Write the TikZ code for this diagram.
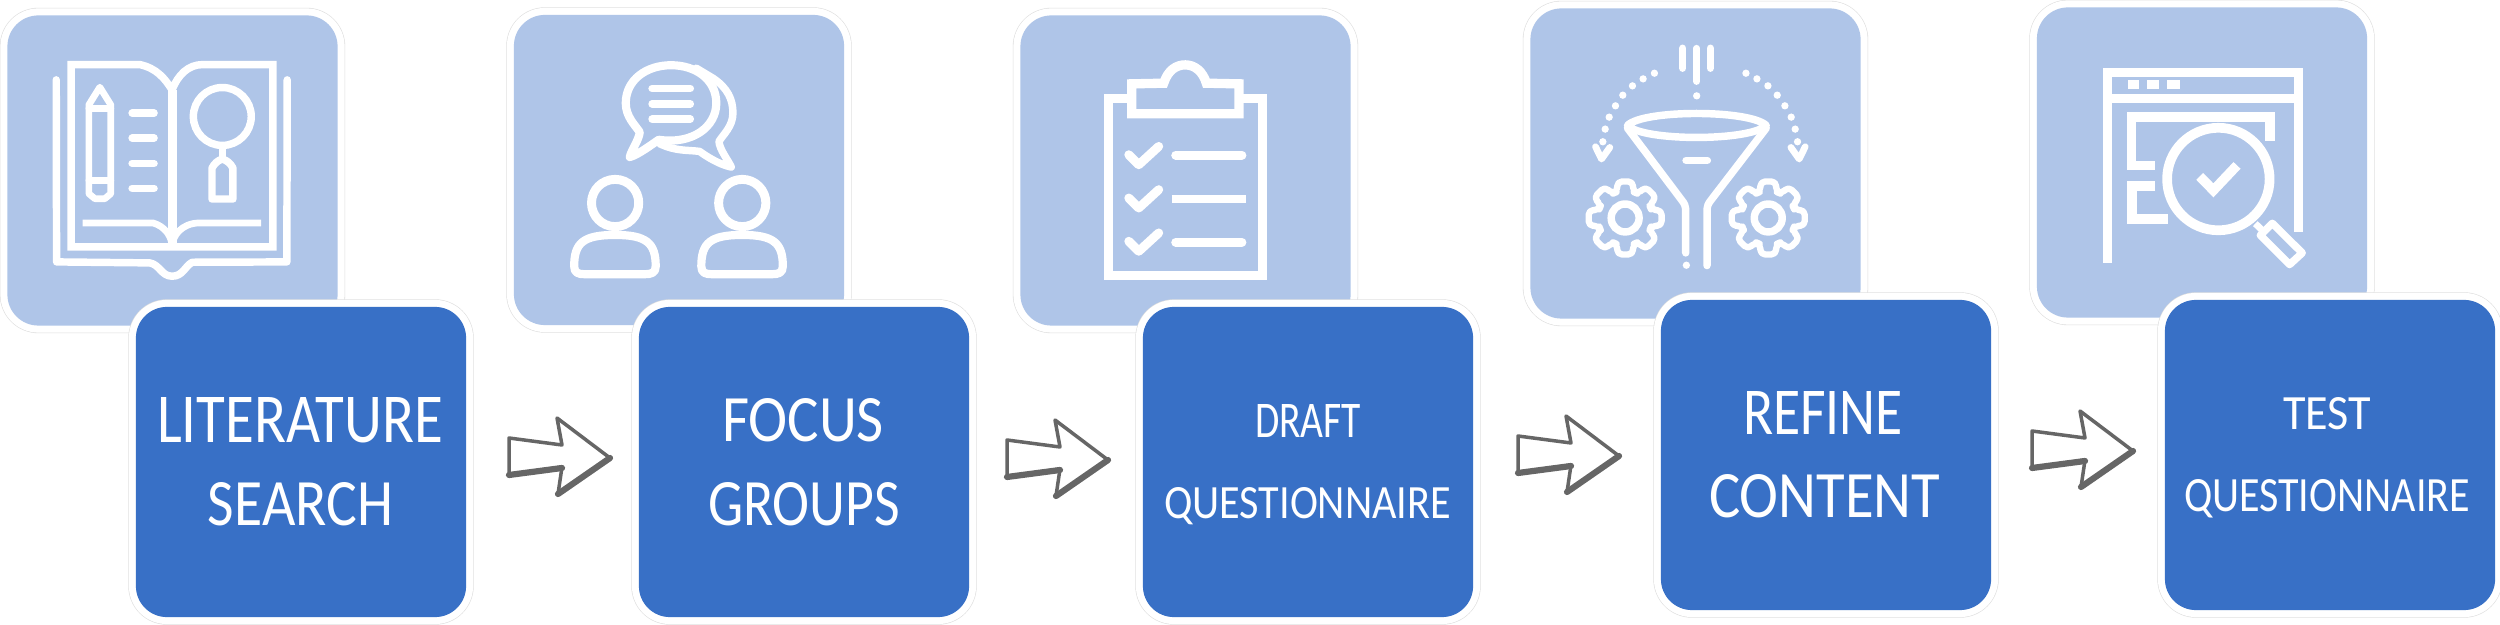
\documentclass[tikz,border=0pt]{standalone}
\usepackage{graphicx}
\usepackage{fontspec}
\setmainfont{Carlito}
\usetikzlibrary{calc}
\definecolor{lightblue}{RGB}{175,197,232}
\definecolor{darkblue}{RGB}{56,112,198}
\definecolor{hair}{RGB}{222,222,222}
\definecolor{arrowgrey}{RGB}{102,102,102}
\newlength{\pxunit}
\setlength{\pxunit}{0.01cm}
\tikzset{
  panel/.style={shape=rectangle,inner sep=0pt,outer sep=0pt,minimum width=3.3cm,minimum height=3.1cm,
    rounded corners=0.31cm,fill=#1,
    preaction={draw=hair,line width=0.152cm},
    preaction={draw=white,line width=0.14cm}},
  ic/.style={draw=white,line width=#1*0.106pt,line cap=round,line join=round},
  ic/.default=20,
  icb/.style={draw=white,line width=#1*0.106pt,line cap=butt,line join=miter},
  icb/.default=24,
  zoomframe/.style 2 args={shift={(#1,#2)},x=0.0033333cm,y=-0.0033333cm},
  lbl/.style={inner sep=0pt,outer sep=0pt,anchor=base,text=white},
  arrowbody/.style={fill=white,draw=arrowgrey,line width=0.035cm,line join=round},
  arrowshade/.style={draw=arrowgrey,line width=0.062cm,line cap=round}
}
\newcommand{\fitlabel}[3]{\resizebox{#1\pxunit}{#2\pxunit}{#3}}
\newcommand{\handarrow}[4]{%
  \begin{scope}[shift={($(#1.east)!.5!(#2.west)$)},shift={(#3,#4)}]
    \draw[arrowbody] (-101,-20) -- (-48,-13) -- (-53,-40) -- (0,0) -- (-52,36) -- (-48,9) -- (-101,17) -- cycle;
    \draw[arrowshade] (-101,17) -- (-48,10);
    \draw[arrowshade] (-52,36) -- (0,0);
  \end{scope}}
\newcommand{\gearicon}[2]{%
  \draw[ic=20] (#1,#2) circle[radius=42];
  \draw[ic=17,rounded corners=1.3pt] ($(#1,#2)+(-17:82)$)
    \foreach \a in {0,45,...,315} { -- ($(#1,#2)+(\a-17:82)$) -- ($(#1,#2)+(\a-12:112)$) -- ($(#1,#2)+(\a+12:112)$) -- ($(#1,#2)+(\a+17:82)$) } -- cycle;}
\newcommand{\personicon}[1]{%
  \draw[ic=24] (#1+406,610) circle[radius=71];
  \draw[ic=22] (#1+283,800) .. controls (#1+283,730) and (#1+310,706) .. (#1+406,706)
    .. controls (#1+500,706) and (#1+528,730) .. (#1+528,800)
    .. controls (#1+528,820) and (#1+515,824) .. (#1+495,824) -- (#1+315,824)
    .. controls (#1+295,824) and (#1+283,820) .. (#1+283,800) -- cycle;}
\begin{document}
\begin{tikzpicture}[x=0.01cm,y=-0.01cm]
\useasboundingbox (0,0) rectangle (2500,625);
\fill[white] (0,0) rectangle (2500,625);
% light panels
\node[panel=lightblue] (l1) at (172.5,170.5) {};
\node[panel=lightblue] (l2) at (679,170) {};
\node[panel=lightblue] (l3) at (1185.5,170.5) {};
\node[panel=lightblue] (l4) at (1695.5,163.5) {};
\node[panel=lightblue] (l5) at (2202,162.5) {};
% icon 1: book
\begin{scope}[zoomframe={0}{0}]
  \draw[ic=20] (169,240) -- (170,787) -- (450,790) .. controls (480,795) and (485,830) .. (517,830) .. controls (550,830) and (555,800) .. (578,788) -- (862,787) -- (863,240);
  \draw[icb=20] (214,194) -- (420,194) .. controls (470,205) and (495,235) .. (517,270) .. controls (535,225) and (565,194) .. (610,194) -- (820,194) -- (820,742) -- (214,742) -- cycle;
  \draw[icb=24] (517,270) -- (517,742);
  \draw[icb=18] (248,670) -- (460,670) .. controls (495,680) and (517,710) .. (517,742);
  \draw[icb=18] (785,670) -- (600,670) .. controls (545,670) and (517,710) .. (517,742);
  \draw[ic=18] (267,315) -- (300,262) -- (333,315) -- (333,582) -- (315,597) -- (285,597) -- (267,582) -- cycle;
  \draw[ic=18] (267,325) -- (333,325);
  \draw[ic=18] (267,542) -- (333,542);
  \foreach \y in {340,415,491,566} \draw[ic=20] (397,\y) -- (463,\y);
  \draw[ic=20] (668,350) circle[radius=87];
  \draw[icb=20] (668,437) -- (668,475);
  \draw[ic=20] (637,598) -- (637,505) .. controls (645,490) and (655,482) .. (668,478) .. controls (682,482) and (692,490) .. (700,505) -- (700,598) -- cycle;
\end{scope}
% icon 2: focus group
\begin{scope}[zoomframe={480}{0}]
  \draw[ic=22] (537,420) .. controls (640,435) and (710,380) .. (710,310) .. controls (710,240) and (650,196) .. (574,196) .. controls (500,196) and (438,240) .. (438,310) .. controls (438,350) and (465,375) .. (480,397) .. controls (478,420) and (455,450) .. (450,472) .. controls (475,465) and (515,435) .. (537,420) -- cycle;
  \draw[ic=20] (650,205) -- (700,235) .. controls (745,265) and (760,300) .. (760,340) .. controls (760,380) and (730,405) .. (718,425) .. controls (720,450) and (745,480) .. (755,502) .. controls (720,495) and (680,470) .. (660,455) .. controls (620,450) and (590,455) .. (540,432);
  \foreach \y in {266,312,358} \draw[ic=20] (517,\y) -- (632,\y);
  \personicon{0}
  \personicon{382}
\end{scope}
% icon 3: clipboard
\begin{scope}[zoomframe={990}{0}]
  \draw[icb=25] (413,296) -- (357,296) -- (357,827) -- (818,827) -- (818,296) -- (761,296);
  \draw[icb=25] (426,342) -- (426,252) -- (522,250) .. controls (535,210) and (560,195) .. (587,195) .. controls (615,195) and (640,215) .. (650,250) -- (748,252) -- (748,342) -- cycle;
  \foreach \d in {0,130,260} \draw[ic=24] (417,465+\d) -- (447,495+\d) -- (507,440+\d);
  \draw[ic=24] (558,466) -- (757,466);
  \draw[icb=22] (546,597) -- (768,597);
  \draw[ic=24] (558,728) -- (757,728);
\end{scope}
% icon 4: funnel and gears
\begin{scope}[zoomframe={1500}{0}]
  \draw[ic=20] (549,145) -- (549,205);
  \draw[ic=18] (591,145) -- (591,245);
  \draw[ic=20] (632,145) -- (632,205);
  \fill[white] (591,288) circle[radius=11];
  \foreach \p in {(464,220),(430,237),(398,258),(369,286),(347,318),(328,352),(316,388),(309,426),(739,220),(772,237),(805,258),(833,286),(856,318),(875,352),(887,388),(894,426)}
    \fill[white] \p circle[radius=11];
  \draw[ic=18] (287,441) -- (305,478) -- (330,443);
  \draw[ic=18] (874,443) -- (899,478) -- (917,441);
  \draw[ic=20] (383,377) .. controls (430,329) and (750,329) .. (800,377) .. controls (750,425) and (430,425) .. (383,377) -- cycle;
  \draw[ic=20] (383,385) -- (545,600) .. controls (555,612) and (558,620) .. (558,635) -- (558,760);
  \draw[ic=20] (800,385) -- (635,600) .. controls (625,612) and (622,620) .. (622,635) -- (622,798);
  \fill[white] (560,797) circle[radius=11];
  \draw[ic=20] (559,482) -- (623,482);
  \gearicon{376}{655}
  \gearicon{806}{655}
\end{scope}
% icon 5: window and magnifier
\begin{scope}[zoomframe={2020}{0}]
  \draw[icb=24] (263,790) -- (263,217) -- (836,217) -- (836,697);
  \draw[icb=26] (263,296) -- (836,296);
  \fill[white] (323,241) rectangle (358,266);
  \fill[white] (382,241) rectangle (418,266);
  \fill[white] (443,241) rectangle (480,266);
  \draw[icb=26] (405,497) -- (335,497) -- (335,351) -- (752,351) -- (752,423);
  \draw[icb=26] (407,558) -- (336,558) -- (336,658) -- (446,658);
  \draw[icb=26] (596,538) circle[radius=154];
  \draw[icb=18] (707,672) -- (733,697);
  \draw[ic=20] (722,707) -- (758,671) -- (848,760) -- (810,795) -- cycle;
  \draw[icb=26] (540,530) -- (581,572) -- (652,497);
\end{scope}
% dark panels
\node[panel=darkblue] (d1) at (301,462) {};
\node[panel=darkblue] (d2) at (804,462) {};
\node[panel=darkblue] (d3) at (1308,462) {};
\node[panel=darkblue] (d4) at (1826,455) {};
\node[panel=darkblue] (d5) at (2330,455) {};
% labels
\node[lbl] (t1a) at (300,443) {\fitlabel{286}{45}{LITERATURE}};
\node[lbl] (t1b) at (300.5,526) {\fitlabel{185}{43}{SEARCH}};
\node[lbl] (t2a) at (803,442) {\fitlabel{162}{43}{FOCUS}};
\node[lbl] (t2b) at (804,526) {\fitlabel{192}{43}{GROUPS}};
\node[lbl] (t3a) at (1308,438) {\fitlabel{106}{33}{DRAFT}};
\node[lbl] (t3b) at (1307.5,519) {\fitlabel{287}{31}{QUESTIONNAIRE}};
\node[lbl] (t4a) at (1823,435) {\fitlabel{160}{43}{REFINE}};
\node[lbl] (t4b) at (1824.5,518) {\fitlabel{231}{43}{CONTENT}};
\node[lbl] (t5a) at (2327,430) {\fitlabel{88}{32}{TEST}};
\node[lbl] (t5b) at (2327,512) {\fitlabel{286}{32}{QUESTIONNAIRE}};
% arrows
\handarrow{d1}{d2}{57.5}{-4}
\handarrow{d2}{d3}{52}{-2}
\handarrow{d3}{d4}{52}{-2.5}
\handarrow{d4}{d5}{55}{-4}
\end{tikzpicture}
\end{document}
